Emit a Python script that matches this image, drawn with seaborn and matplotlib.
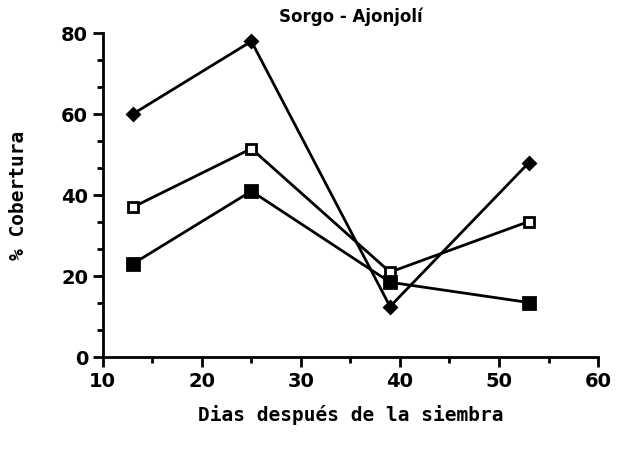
import matplotlib
matplotlib.use("Agg")
import matplotlib.pyplot as plt
from matplotlib.ticker import MultipleLocator
import pandas as pd
import seaborn as sns

# days after sowing
dias = [13, 25, 39, 53]
# % ground cover, one list per treatment
serie_rombo = [60, 78, 12.5, 48]
serie_cuadro_abierto = [37, 51.5, 21, 33.5]
serie_cuadro_lleno = [23, 41, 18.5, 13.5]

nombres = ["rombo", "cuadro_abierto", "cuadro_lleno"]

df = pd.DataFrame({
    "dias": dias * 3,
    "cobertura": serie_rombo + serie_cuadro_abierto + serie_cuadro_lleno,
    "serie": [n for n in nombres for _ in dias],
})

sns.set_style("ticks", {"axes.edgecolor": "black", "text.color": "black",
                        "xtick.color": "black", "ytick.color": "black",
                        "axes.labelcolor": "black"})
plt.rcParams["font.family"] = ["DejaVu Sans"]

fig = plt.figure(figsize=(6.23, 4.55), dpi=100)
ax = fig.add_axes([0.165, 0.215, 0.795, 0.712])

estilos = {
    "rombo": dict(marker="D", mfc="black", ms=6),
    "cuadro_abierto": dict(marker="s", mfc="white", ms=7),
    "cuadro_lleno": dict(marker="s", mfc="black", ms=8),
}
for n in nombres:
    sub = df[df["serie"] == n]
    sns.lineplot(data=sub, x="dias", y="cobertura", ax=ax, color="black",
                 lw=2, mec="black", mew=2, legend=False, **estilos[n])

ax.set_xlim(10, 60)
ax.set_ylim(0, 80)
ax.xaxis.set_major_locator(MultipleLocator(10))
ax.xaxis.set_minor_locator(MultipleLocator(5))
ax.yaxis.set_major_locator(MultipleLocator(20))
ax.yaxis.set_minor_locator(MultipleLocator(20 / 3))
ax.tick_params(which="major", direction="out", length=7, width=2, labelsize=14)
ax.tick_params(which="minor", direction="out", length=4, width=2)
for lab in ax.get_xticklabels() + ax.get_yticklabels():
    lab.set_fontweight("bold")
for s in ["left", "bottom"]:
    ax.spines[s].set_linewidth(2)
sns.despine(ax=ax)

ax.set_title("Sorgo - Ajonjolí", fontsize=12, fontweight="bold", pad=8)
ax.set_xlabel("Dias después de la siembra", family="DejaVu Sans Mono",
              fontsize=14, fontweight="bold", labelpad=10)
ax.set_ylabel("% Cobertura", family="DejaVu Sans Mono",
              fontsize=14, fontweight="bold", labelpad=24)

fig.savefig("out.png", dpi=100)
